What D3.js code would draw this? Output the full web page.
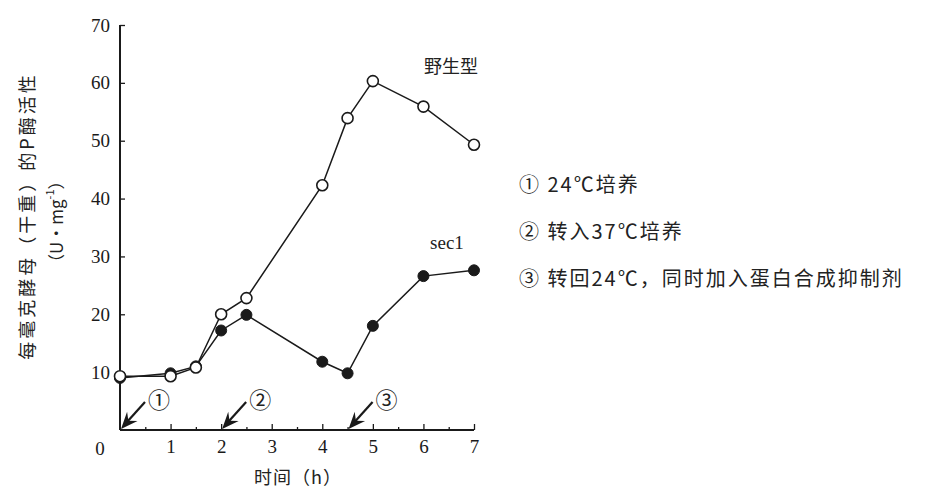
<!DOCTYPE html>
<html>
<head>
<meta charset="utf-8">
<script src="https://cdn.jsdelivr.net/npm/d3@7"></script>
<style>
  body { margin: 0; background: #fff; }
  svg { display: block; }
  .cjk { font-family: "Noto Sans CJK SC", "Liberation Serif", serif; }
  .num { font-family: "Liberation Serif", "DejaVu Serif", serif; }
</style>
</head>
<body>
<div id="app"></div>
<script>
// time (h) for each sampling point
const hours     = [0, 1, 1.5, 2, 2.5, 4, 4.5, 5, 6, 7];
// P enzyme activity, U·mg-1
const wildType  = [9.3, 9.3, 10.8, 20, 22.8, 42.3, 53.9, 60.3, 55.9, 49.3];
const sec1      = [9.0, 9.8, 11.0, 17.2, 19.9, 11.8, 9.8, 18.0, 26.6, 27.6];
const yTicks    = [10, 20, 30, 40, 50, 60, 70];
const xTicks    = [1, 2, 3, 4, 5, 6, 7];
const xMinor    = [0.5, 1.5, 2.5, 3.5, 4.5, 5.5, 6.5];
// arrows: time point where treatment starts, marker text
const markTimes = [0, 2, 4.5];
const markText  = ["①", "②", "③"];
const legendTxt = ["① 24℃培养", "② 转入37℃培养", "③ 转回24℃，同时加入蛋白合成抑制剂"];
const seriesLbl = ["野生型", "sec1"];

const W = 948, H = 488;
const m = { t: 25, r: 474, b: 58, l: 120 };   // plot box 120..474 x 25..430

const svg = d3.select("#app").append("svg")
    .attr("width", W).attr("height", H);

const x = d3.scaleLinear().domain([0, 7]).range([m.l, W - m.r]);
const y = d3.scaleLinear().domain([0, 70]).range([H - m.b, m.t]);

const ink = "#1a1a1a";

// y axis, ticks pointing inwards
const gy = svg.append("g")
    .attr("transform", "translate(" + x(0) + ",0)")
    .call(d3.axisLeft(y).tickValues(yTicks).tickFormat(d3.format("d"))
        .tickSizeInner(-5).tickSizeOuter(0).tickPadding(10));
gy.select(".domain").attr("stroke", ink).attr("stroke-width", 2).attr("d", "M0," + y(0) + "V" + y(70));
gy.selectAll("line").attr("stroke", ink).attr("stroke-width", 1.3);
gy.selectAll("text").attr("class", "num").attr("font-size", "19px").attr("fill", ink);

// x axis
const gx = svg.append("g")
    .attr("transform", "translate(0," + y(0) + ")")
    .call(d3.axisBottom(x).tickValues(xTicks).tickFormat(d3.format("d"))
        .tickSizeInner(-6).tickSizeOuter(0).tickPadding(10));
gx.select(".domain").attr("stroke", ink).attr("stroke-width", 2).attr("d", "M" + x(0) + ",0H" + x(7));
gx.selectAll("line").attr("stroke", ink).attr("stroke-width", 1.3);
gx.selectAll("text").attr("class", "num").attr("font-size", "19px").attr("fill", ink);

// half hour minor ticks
svg.append("g")
    .attr("transform", "translate(0," + y(0) + ")")
    .call(d3.axisBottom(x).tickValues(xMinor).tickSizeInner(-3).tickSizeOuter(0).tickFormat(""))
    .call(g => g.select(".domain").remove())
    .selectAll("line").attr("stroke", ink).attr("stroke-width", 1.3);

// the shared zero at the corner
svg.append("text").attr("class", "num")
    .attr("x", x(0) - 20).attr("y", y(0) + 25)
    .attr("text-anchor", "middle").attr("font-size", "19px").attr("fill", ink)
    .text("0");

// axis titles
svg.append("text").attr("class", "cjk")
    .attr("transform", "translate(26," + y(37) + ") rotate(-90)")
    .attr("text-anchor", "middle").attr("dominant-baseline", "central")
    .attr("font-size", "18px").attr("letter-spacing", "3px").attr("fill", "#222")
    .text("每毫克酵母（干重）的P酶活性");
svg.append("text").attr("class", "cjk")
    .attr("transform", "translate(55," + y(36) + ") rotate(-90)")
    .attr("text-anchor", "middle").attr("dominant-baseline", "central")
    .attr("font-size", "17px").attr("fill", "#222")
    .html("（U·mg<tspan dy='-6' font-size='11px'>-1</tspan><tspan dy='6'>）</tspan>");
svg.append("text").attr("class", "cjk")
    .attr("x", (x(0) + x(7)) / 2 + 1).attr("y", 484)
    .attr("text-anchor", "middle").attr("font-size", "18px").attr("letter-spacing", "1px").attr("fill", "#222")
    .text("时间（h）");

// lines + markers
const line = d3.line().x((d, i) => x(hours[i])).y(d => y(d));

svg.append("path").datum(sec1).attr("d", line)
    .attr("fill", "none").attr("stroke", ink).attr("stroke-width", 1.5);
svg.append("path").datum(wildType).attr("d", line)
    .attr("fill", "none").attr("stroke", ink).attr("stroke-width", 1.5);

svg.append("g").selectAll("circle").data(sec1).enter()
    .append("circle")
    .attr("cx", (d, i) => x(hours[i])).attr("cy", d => y(d))
    .attr("r", 5.5).attr("fill", ink).attr("stroke", ink).attr("stroke-width", 1);

svg.append("g").selectAll("circle").data(wildType).enter()
    .append("circle")
    .attr("cx", (d, i) => x(hours[i])).attr("cy", d => y(d))
    .attr("r", 5.5).attr("fill", "#fff").attr("stroke", ink).attr("stroke-width", 1.6);

// series names
svg.append("text").attr("class", "cjk")
    .attr("x", 451).attr("y", y(60.5) - 7)
    .attr("text-anchor", "middle").attr("font-size", "18px").attr("fill", "#222")
    .text(seriesLbl[0]);
svg.append("text").attr("class", "num")
    .attr("x", 447).attr("y", y(31.2))
    .attr("text-anchor", "middle").attr("font-size", "19px").attr("fill", "#222")
    .text(seriesLbl[1]);

// arrows with circled numbers, head drawn as a filled barb
const arrowDx = 25, arrowDy = 28, headLen = 17, headHalf = 7;
const ux = -arrowDx / Math.hypot(arrowDx, arrowDy), uy = arrowDy / Math.hypot(arrowDx, arrowDy);
function headPath(d) {
    const tx = x(d) + 1, ty = y(0) - 1;
    const bx = tx - ux * headLen, by = ty - uy * headLen;
    const nx = -uy, ny = ux;
    const ix = tx - ux * headLen * 0.65, iy = ty - uy * headLen * 0.65;
    return "M" + tx + "," + ty +
        "L" + (bx + nx * headHalf) + "," + (by + ny * headHalf) +
        "L" + ix + "," + iy +
        "L" + (bx - nx * headHalf) + "," + (by - ny * headHalf) + "Z";
}

const marks = svg.append("g").selectAll("g").data(markTimes).enter().append("g");
marks.append("line")
    .attr("x1", d => x(d) + arrowDx).attr("y1", y(0) - arrowDy)
    .attr("x2", d => x(d) + 7).attr("y2", y(0) - 8)
    .attr("stroke", ink).attr("stroke-width", 2.2);
marks.append("path").attr("d", headPath).attr("fill", ink);
marks.append("text").attr("class", "cjk")
    .attr("x", d => x(d) + 39).attr("y", y(0) - 32)
    .attr("text-anchor", "middle").attr("dominant-baseline", "central")
    .attr("font-size", "22px").attr("fill", "#222")
    .text((d, i) => markText[i]);

// notes on the right
svg.append("g").selectAll("text").data(legendTxt).enter()
    .append("text").attr("class", "cjk")
    .attr("x", 519).attr("y", (d, i) => 183 + i * 47)
    .attr("dominant-baseline", "central")
    .attr("font-size", "20px").attr("letter-spacing", "2px").attr("fill", "#222")
    .text(d => d);
</script>
</body>
</html>
